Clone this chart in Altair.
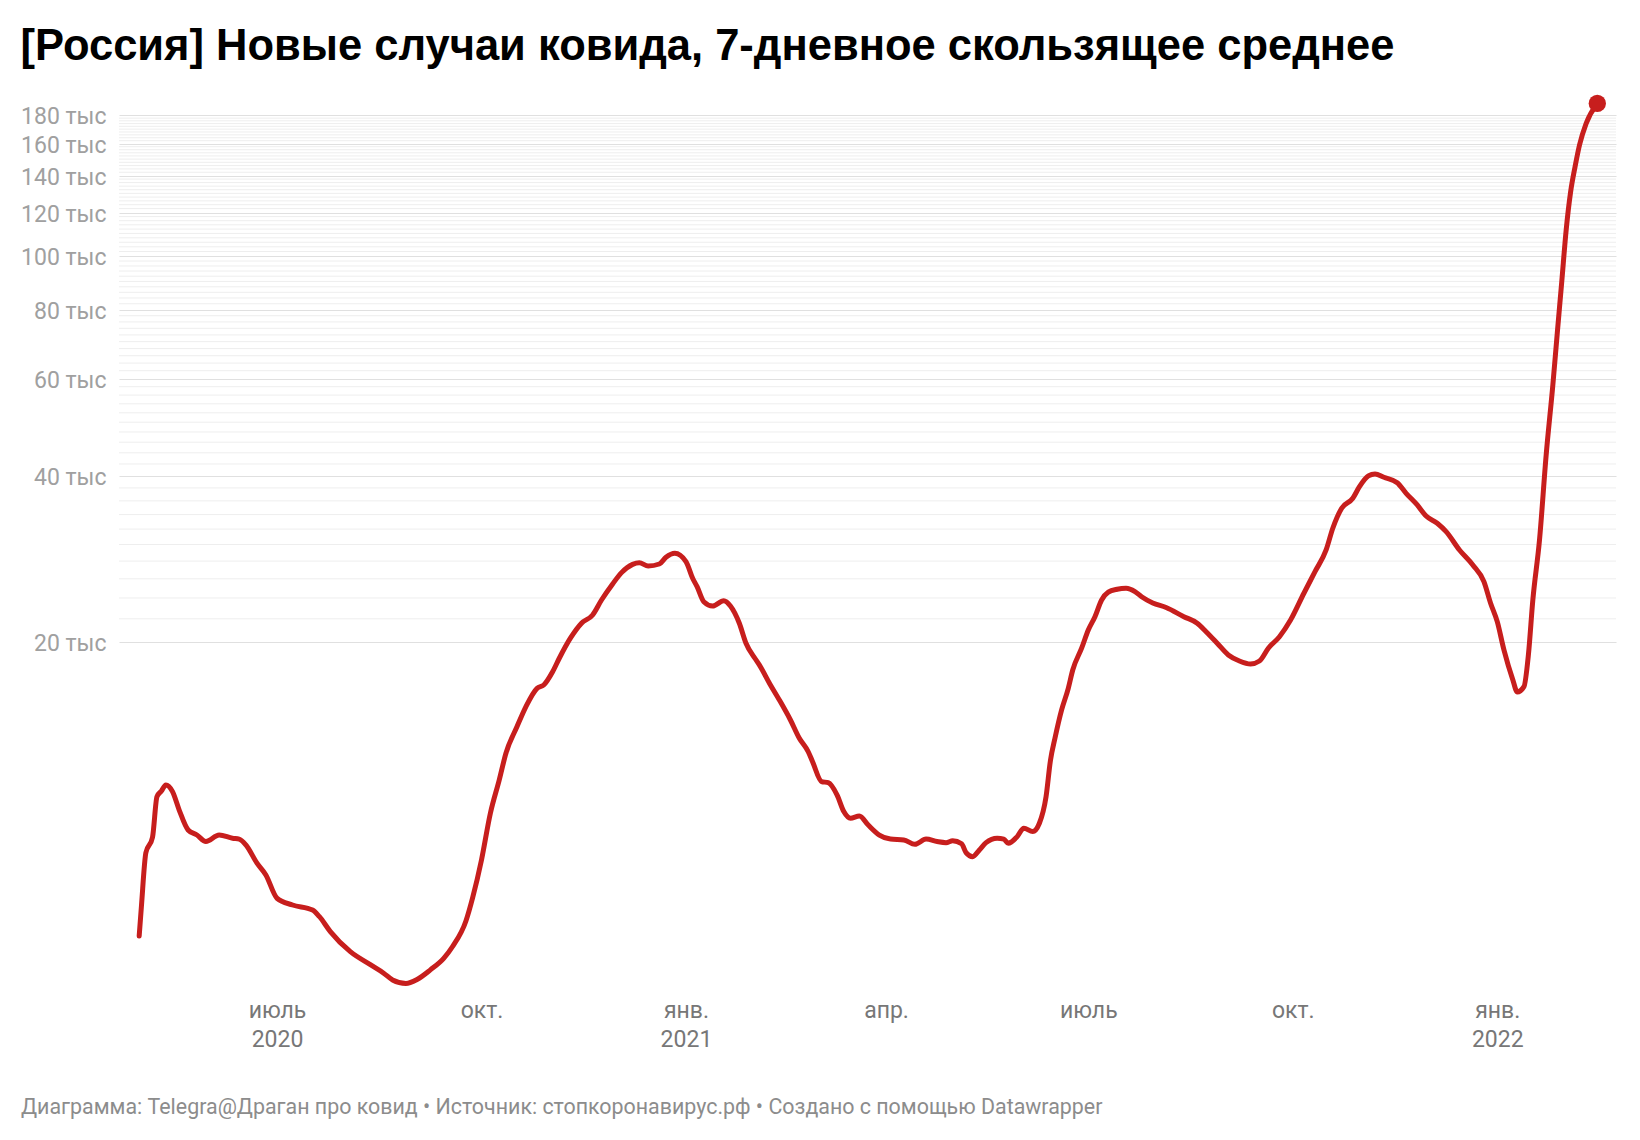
import altair as alt
import pandas as pd

# ---- data (7-day average of new cases, thousands) ----
dates = [
    "2020-04-30", "2020-05-01", "2020-05-03", "2020-05-06", "2020-05-08", "2020-05-10",
    "2020-05-12", "2020-05-15", "2020-05-18", "2020-05-22", "2020-05-26", "2020-05-30",
    "2020-06-05", "2020-06-11", "2020-06-14", "2020-06-17", "2020-06-22", "2020-06-26",
    "2020-07-01", "2020-07-08", "2020-07-17", "2020-07-20", "2020-07-25", "2020-08-03",
    "2020-08-12", "2020-08-18", "2020-08-22", "2020-08-28", "2020-09-02", "2020-09-08",
    "2020-09-14", "2020-09-18", "2020-09-24", "2020-09-27", "2020-10-01", "2020-10-05",
    "2020-10-09", "2020-10-12", "2020-10-17", "2020-10-21", "2020-10-26", "2020-10-29",
    "2020-11-02", "2020-11-05", "2020-11-10", "2020-11-15", "2020-11-20", "2020-11-24",
    "2020-11-29", "2020-12-03", "2020-12-08", "2020-12-11", "2020-12-15", "2020-12-20",
    "2020-12-23", "2020-12-27", "2021-01-01", "2021-01-04", "2021-01-06", "2021-01-09",
    "2021-01-13", "2021-01-18", "2021-01-21", "2021-01-25", "2021-01-28", "2021-02-01",
    "2021-02-03", "2021-02-08", "2021-02-12", "2021-02-17", "2021-02-21", "2021-02-25",
    "2021-02-27", "2021-03-03", "2021-03-06", "2021-03-10", "2021-03-13", "2021-03-16",
    "2021-03-20", "2021-03-24", "2021-03-29", "2021-04-03", "2021-04-09", "2021-04-14",
    "2021-04-19", "2021-04-24", "2021-04-28", "2021-05-01", "2021-05-05", "2021-05-07",
    "2021-05-10", "2021-05-13", "2021-05-16", "2021-05-21", "2021-05-24", "2021-05-26",
    "2021-05-30", "2021-06-02", "2021-06-06", "2021-06-09", "2021-06-12", "2021-06-14",
    "2021-06-16", "2021-06-19", "2021-06-22", "2021-06-24", "2021-06-28", "2021-07-01",
    "2021-07-04", "2021-07-07", "2021-07-10", "2021-07-14", "2021-07-18", "2021-07-22",
    "2021-07-25", "2021-07-30", "2021-08-05", "2021-08-13", "2021-08-19", "2021-08-23",
    "2021-08-28", "2021-09-02", "2021-09-07", "2021-09-12", "2021-09-16", "2021-09-20",
    "2021-09-25", "2021-09-30", "2021-10-06", "2021-10-11", "2021-10-16", "2021-10-19",
    "2021-10-23", "2021-10-28", "2021-10-31", "2021-11-04", "2021-11-07", "2021-11-11",
    "2021-11-17", "2021-11-21", "2021-11-26", "2021-11-30", "2021-12-05", "2021-12-09",
    "2021-12-15", "2021-12-21", "2021-12-26", "2021-12-29", "2022-01-01", "2022-01-04",
    "2022-01-08", "2022-01-10", "2022-01-13", "2022-01-15", "2022-01-17", "2022-01-20",
    "2022-01-23", "2022-01-26", "2022-01-28", "2022-01-30", "2022-02-01", "2022-02-03",
    "2022-02-05", "2022-02-07", "2022-02-10", "2022-02-15",
]
cases_thousands = [
    5.85, 6.62, 8.28, 8.84, 10.47, 10.72,
    10.99, 10.69, 9.90, 9.11, 8.92, 8.68,
    8.92, 8.80, 8.77, 8.56, 7.93, 7.55,
    6.85, 6.66, 6.52, 6.35, 5.96, 5.48,
    5.19, 5.01, 4.87, 4.80, 4.88, 5.08,
    5.33, 5.60, 6.23, 6.86, 8.04, 9.77,
    11.23, 12.55, 14.03, 15.25, 16.46, 16.69,
    17.64, 18.66, 20.29, 21.60, 22.36, 23.80,
    25.45, 26.68, 27.62, 27.81, 27.43, 27.66,
    28.45, 28.93, 27.93, 26.06, 25.16, 23.63,
    23.21, 23.73, 23.21, 21.60, 19.87, 18.66,
    18.15, 16.69, 15.68, 14.42, 13.36, 12.63,
    12.10, 11.15, 11.10, 10.54, 9.84, 9.57,
    9.66, 9.30, 8.92, 8.77, 8.74, 8.58,
    8.77, 8.68, 8.64, 8.71, 8.60, 8.29,
    8.15, 8.38, 8.64, 8.80, 8.77, 8.62,
    8.86, 9.18, 9.05, 9.37, 10.47, 12.20,
    13.36, 15.04, 16.46, 17.77, 19.46, 21.00,
    22.20, 23.80, 24.59, 24.89, 24.99, 24.65,
    24.13, 23.51, 23.07, 22.20, 21.60, 20.85,
    19.87, 18.92, 18.45, 18.22, 18.45, 19.46,
    20.42, 21.89, 24.48, 26.79, 29.33, 32.11,
    34.91, 36.39, 38.20, 39.95, 40.28, 39.73,
    38.84, 37.16, 35.39, 33.80, 32.79, 31.66,
    29.33, 27.55, 25.70, 23.48, 21.74, 19.32,
    17.05, 16.21, 16.57, 18.92, 23.80, 30.57,
    43.60, 58.42, 72.57, 89.79, 111.6, 130.8,
    145.3, 159.1, 174.2, 189.3,
]

y_label_values = [20000, 40000, 60000, 80000, 100000, 120000, 140000, 160000, 180000]
x_tick_dates = [(2020, 7, 1), (2020, 10, 1), (2021, 1, 1), (2021, 4, 1),
                (2021, 7, 1), (2021, 10, 1), (2022, 1, 1)]

TITLE = "[Россия] Новые случаи ковида, 7-дневное скользящее среднее"
FOOTER = ("Диаграмма: Telegra@Драган про ковид • Источник: стопкоронавирус.рф • "
          "Создано с помощью Datawrapper")

RED = "#c71e1d"
FONT = "Roboto"
TITLE_FONT = "Liberation Sans"

df = pd.DataFrame({"date": pd.to_datetime(dates),
                   "cases": [v * 1000 for v in cases_thousands]})
last = df.tail(1)
minor = pd.DataFrame({"v": [v for v in range(20000, 180001, 2000) if v % 20000 != 0]})

yscale = alt.Scale(type="log", domain=[4670, 192000], nice=False)
xscale = alt.Scale(domain=[alt.DateTime(year=2020, month=4, date=20, hours=22),
                           alt.DateTime(year=2022, month=2, date=23, hours=10)])

x_label_expr = (
    "month(datum.value) == 0 ? ['янв.', '' + year(datum.value)] : "
    "month(datum.value) == 3 ? 'апр.' : month(datum.value) == 9 ? 'окт.' : "
    "(year(datum.value) == 2020 ? ['июль', '2020'] : 'июль')"
)

x_axis = alt.Axis(
    values=[alt.DateTime(year=y, month=m, date=d) for (y, m, d) in x_tick_dates],
    labelExpr=x_label_expr, title=None, domain=False, ticks=False, grid=False,
    labelFont=FONT, labelFontSize=23, labelColor="#777777", labelPadding=9,
    labelLineHeight=29, labelFlush=False, labelOverlap=False, labelBaseline="top",
)
y_axis = alt.Axis(
    values=y_label_values, labelExpr="format(datum.value / 1000, 'd') + ' тыс'",
    title=None, domain=False, ticks=False, grid=True, gridColor="#e0e0e0",
    gridWidth=1.2, labelFont=FONT, labelFontSize=23, labelColor="#a0a0a0",
    labelPadding=13, labelBaseline="middle", labelOffset=1.5,
)

grid_minor = alt.Chart(minor).mark_rule(color="#eeeeee", strokeWidth=1).encode(
    y=alt.Y("v:Q", scale=yscale, axis=y_axis)
)

line = alt.Chart(df).mark_line(
    color=RED, strokeWidth=5, strokeCap="round", strokeJoin="round",
    interpolate="monotone",
).encode(
    x=alt.X("date:T", scale=xscale, axis=x_axis),
    y=alt.Y("cases:Q", scale=yscale, axis=y_axis),
)

dot = alt.Chart(last).mark_circle(color=RED, size=300, opacity=1).encode(
    x=alt.X("date:T", scale=xscale, axis=x_axis),
    y=alt.Y("cases:Q", scale=yscale, axis=y_axis),
)

footer = alt.Chart(pd.DataFrame({"t": [FOOTER]})).mark_text(
    align="left", baseline="alphabetic", font=FONT, fontSize=21.4, color="#8c8c8c"
).encode(x=alt.value(21 - 119), y=alt.value(1114 - 100), text="t:N")

chart = alt.layer(grid_minor, line, dot, footer).properties(
    width=1497, height=890,
    title=alt.TitleParams(text=TITLE, anchor="start", frame="bounds", font=TITLE_FONT,
                          fontSize=43.5, fontWeight="bold", color="#000000",
                          baseline="alphabetic", offset=34, dy=43),
    autosize=alt.AutoSizeParams(type="none"),
    padding={"left": 111, "top": 92, "right": 12, "bottom": 134},
    background="white",
).configure_view(stroke=None)

chart.save("out.html", embed_options={"renderer": "svg", "actions": False})
